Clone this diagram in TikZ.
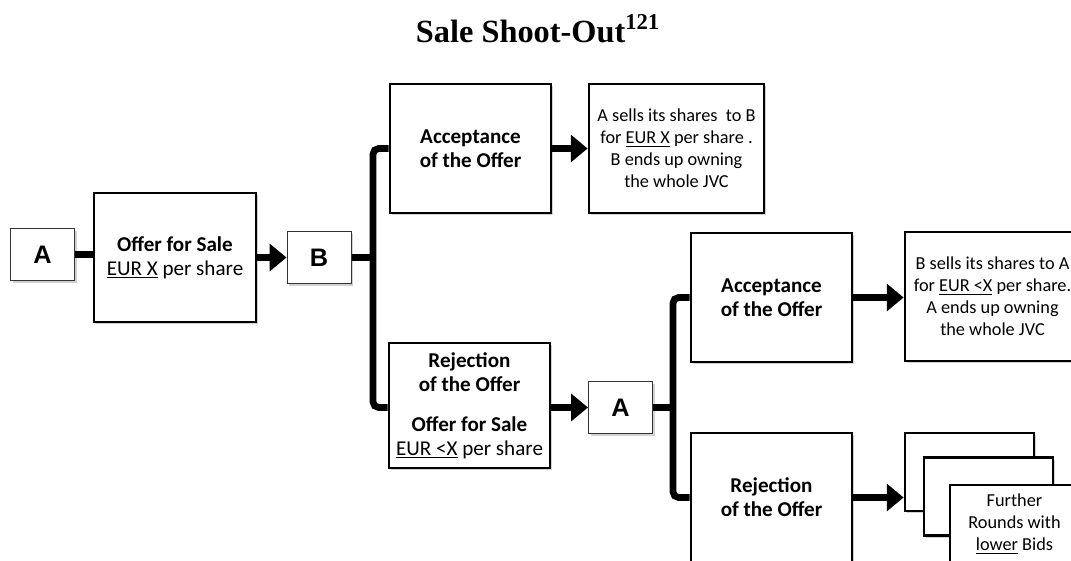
\documentclass[tikz,border=0pt]{standalone}
\usepackage{fontspec}
\setmainfont{Liberation Serif}
\newfontfamily\calfont{Carlito}
\newfontfamily\arfont{Liberation Sans}
\usetikzlibrary{arrows.meta,shadows}

\tikzset{
	boxshadow/.style={drop shadow={shadow xshift=1.6pt, shadow yshift=-1.6pt, opacity=0.3, fill=black!60}},
	bigbox/.style={draw, line width=1.9pt, fill=white, align=center, inner sep=0pt,
		minimum width=4.025cm, minimum height=3.225cm, boxshadow,
		font=\calfont\bfseries\fontsize{15}{17.2}\selectfont},
	resultbox/.style={bigbox, minimum width=4.375cm, font=\calfont\fontsize{13}{15.6}\selectfont},
	stackbox/.style={bigbox, minimum width=3.225cm, minimum height=1.95cm, font=\calfont\fontsize{13}{15.6}\selectfont},
	partybox/.style={draw, line width=0.7pt, draw=black!80, fill=white, inner sep=0pt,
		minimum width=1.6cm, minimum height=1.3cm, boxshadow,
		font=\arfont\bfseries\fontsize{18}{21}\selectfont},
	link/.style={line width=4.8pt, line cap=butt},
	linkarrow/.style={link, -{Triangle[length=12pt, width=19pt]}},
	fork/.style={link, rounded corners=4pt}
}

\begin{document}
\begin{tikzpicture}[x=0.025cm, y=-0.025cm]
	%%%%% START %%%%%
	\clip (0, 0) rectangle (1071, 560);
	
	\node (title) at (538, 29) {\bfseries\fontsize{23}{27}\selectfont Sale Shoot-Out\textsuperscript{121}};
	
	% first round
	\node[partybox] (a1) at (42.5, 254.5) {A};
	\node[bigbox, minimum width=4.05cm] (offer) at (175, 257.5) {Offer for Sale\\{\mdseries\underline{EUR X} per share}};
	\node[partybox] (b1) at (319, 257.5) {B};
	
	\draw[link] (a1.east) -- (a1.east -| offer.west);
	\draw[linkarrow] (offer.east |- b1.west) -- (b1.west);
	
	\node[bigbox] (acc1) at (470.5, 148.5) {Acceptance\\of the Offer};
	\node[resultbox] (res1) at (676.5, 148.5) {A sells its shares\ \ to B\\for \underline{EUR X} per share .\\B ends up owning\\the whole JVC};
	\node[bigbox, minimum height=3.125cm] (rej1) at (469.5, 405.5) {Rejection\\of the Offer\\[11pt]Offer for Sale\\{\mdseries\underline{EUR <X} per share}};
	
	\coordinate (fork1) at (373, 257.5);
	\draw[link] (b1.east) -- (fork1);
	\draw[fork] (acc1.west) -| (fork1) |- (rej1.west |- 0, 407.5);
	\draw[linkarrow] (acc1.east) -- (res1.west);
	
	% second round
	\node[partybox] (a2) at (620.5, 407.5) {A};
	\draw[linkarrow] (rej1.east |- a2.west) -- (a2.west);
	
	\node[bigbox] (acc2) at (771.5, 297.5) {Acceptance\\of the Offer};
	\node[resultbox] (res2) at (992.5, 296.5) {B sells its shares to A\\for \underline{EUR <X} per share.\\A ends up owning\\the whole JVC};
	\node[bigbox] (rej2) at (771.5, 497.5) {Rejection\\of the Offer};
	
	\coordinate (fork2) at (673, 407.5);
	\draw[link] (a2.east) -- (fork2);
	\draw[fork] (acc2.west) -| (fork2) |- (rej2.west);
	\draw[linkarrow] (acc2.east) -- (acc2.east -| res2.west);
	
	% further rounds
	\node[stackbox] (more1) at (969.5, 472) {};
	\node[stackbox] (more2) at (988.5, 496.5) {};
	\node[stackbox] (more3) at (1014.5, 524) {Further\\Rounds with\\\underline{lower} Bids};
	\draw[linkarrow] (rej2.east) -- (rej2.east -| more1.west);
	
	%%%%% END %%%%%
\end{tikzpicture}
\end{document}
